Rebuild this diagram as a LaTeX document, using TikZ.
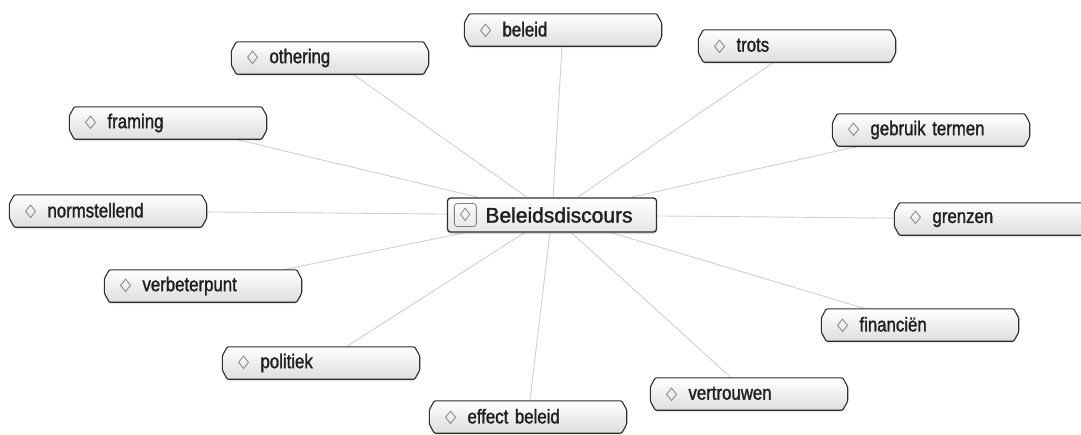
\documentclass[tikz,border=0pt]{standalone}
\usepackage{fontspec}
\setmainfont{Liberation Sans}[FakeBold=1.6]
\newfontfamily\tagfont{Liberation Sans}[FakeStretch=0.84,FakeBold=1.4]
\newfontfamily\symfont{DejaVu Sans}
\usetikzlibrary{shadows,calc}
\pgfdeclarelayer{bg}
\pgfdeclarelayer{edges}
\pgfdeclarelayer{boxes}
\pgfsetlayers{bg,edges,boxes,main}
\definecolor{edgegray}{HTML}{D0D0D0}
\definecolor{framegray}{HTML}{2E2E2E}
\newcommand{\dia}{\makebox[38pt][l]{\hspace*{15.5pt}\raisebox{0.5pt}{\color{black!55}\symfont\fontsize{18}{18}\selectfont\scalebox{0.8}[1]{◇}}}}
\tikzset{
  tag/.style={rectangle, inner sep=0pt, text width=197pt, minimum height=32pt,
    align=left, font=\tagfont\fontsize{20}{24}\selectfont, text=black!88},
  tagbox/.style={draw=framegray, line width=1.1pt, top color=white, bottom color=black!13,
    rounded corners=1.2pt,
    drop shadow={opacity=0.18, shadow xshift=0pt, shadow yshift=-2pt}},
  hub/.style={rectangle, rounded corners=3pt, draw=framegray, line width=1.3pt,
    top color=white, bottom color=black!10, inner xsep=0pt, inner ysep=0pt,
    text width=209pt, minimum height=34pt, align=left, font=\fontsize{21}{24}\selectfont,
    text=black!88,
    drop shadow={opacity=0.3, shadow xshift=0pt, shadow yshift=-2pt}},
  hubicon/.style={rectangle, rounded corners=3pt, draw=black!50, line width=0.8pt,
    minimum width=22pt, minimum height=23pt, inner sep=0pt, text=black!55,
    font=\symfont\fontsize{18}{18}\selectfont},
  link/.style={draw=edgegray, line width=0.9pt}
}
\newcommand{\octo}[1]{%
  \begin{pgfonlayer}{boxes}
  \path[tagbox] ([xshift=5pt]#1.north west) -- ([xshift=-5pt]#1.north east)
    -- ([yshift=-9pt]#1.north east) -- ([yshift=9pt]#1.south east)
    -- ([xshift=-5pt]#1.south east) -- ([xshift=5pt]#1.south west)
    -- ([yshift=9pt]#1.south west) -- ([yshift=-9pt]#1.north west) -- cycle;
  \end{pgfonlayer}}
\begin{document}
\begin{tikzpicture}[x=1pt,y=-1pt]
\useasboundingbox (0,0) rectangle (1081,434);
\begin{pgfonlayer}{bg}
\fill[white] (0,0) rectangle (1081,434);
\end{pgfonlayer}
\node[hub] (c) at (552,215) {\hspace*{38pt}Beleidsdiscours};
\node[hubicon] (ci) at ([xshift=18.5pt]c.west) {\scalebox{0.75}[1]{◇}};
\node[tag] (beleid) at (563,30) {\dia beleid};
\node[tag] (trots) at (797,46) {\dia trots};
\node[tag] (othering) at (330,58) {\dia othering};
\node[tag] (framing) at (168,123) {\dia framing};
\node[tag] (gebruik) at (931,130) {\dia gebruik termen};
\node[tag] (norm) at (108,211) {\dia normstellend};
\node[tag] (grenzen) at (993,219) {\dia grenzen};
\node[tag] (verbeter) at (203,286) {\dia verbeterpunt};
\node[tag] (fin) at (920,325) {\dia financiën};
\node[tag] (politiek) at (321,363) {\dia politiek};
\node[tag] (vertrouwen) at (749,394) {\dia vertrouwen};
\node[tag] (effect) at (528,417) {\dia effect beleid};
\foreach \n in {beleid,trots,othering,framing,gebruik,norm,grenzen,verbeter,fin,politiek,vertrouwen,effect}{
  \octo{\n}
  \begin{pgfonlayer}{edges}
  \draw[link] (c) -- (\n);
  \end{pgfonlayer}
}
\end{tikzpicture}
\end{document}
